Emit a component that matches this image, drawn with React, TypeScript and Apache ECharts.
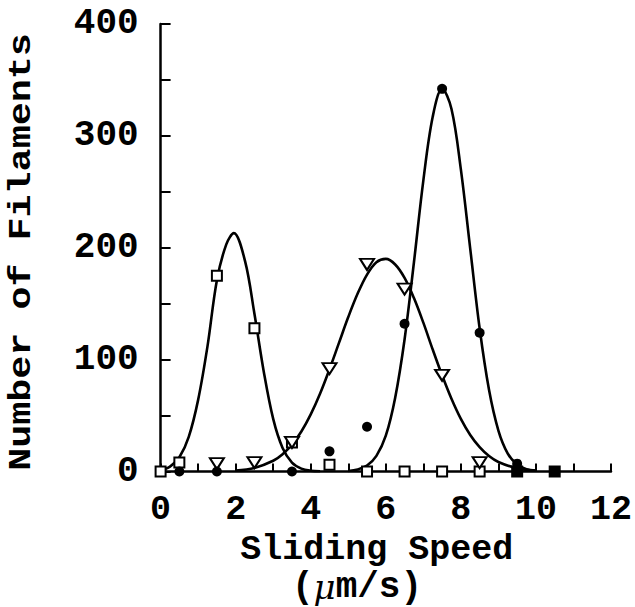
import React, { useEffect, useRef } from "react";
import * as echarts from "echarts";

const FONT = '"Liberation Mono", "Courier New", monospace';

// Fitted curve (squares population)
const curveAX = [0, 0.25, 0.5, 0.75, 1, 1.25, 1.5, 1.75, 1.95, 2.25, 2.5, 2.75, 3, 3.25, 3.5, 3.75, 4, 4.25];
const curveAY = [1.3, 4.4, 12.7, 31, 64, 112, 171, 203, 213, 188, 141, 89, 47, 21, 8, 2.6, 0.7, 0.2];

// Fitted curve (triangles population)
const curveBX = [2, 2.5, 3, 3.25, 3.5, 3.75, 4, 4.25, 4.5, 4.75, 5, 5.25, 5.5, 5.75, 6, 6.25, 6.5, 6.75, 7, 7.25, 7.5, 7.75, 8, 8.25, 8.5, 8.75, 9, 9.5, 10];
const curveBY = [0.9, 3.2, 9.6, 15.5, 24, 35.7, 51, 69.7, 91.4, 114.7, 138, 159, 176, 187, 190, 185, 173, 155, 133, 109, 86, 65, 47, 32.6, 21.7, 13.8, 8.5, 2.8, 0.8];

// Fitted curve (filled circles population)
const curveCX = [5, 5.25, 5.5, 5.75, 6, 6.25, 6.5, 6.75, 7, 7.25, 7.5, 7.75, 8, 8.25, 8.5, 8.75, 9, 9.25, 9.5, 9.75, 10];
const curveCY = [0.5, 1.8, 5.3, 14, 32, 66, 118, 187, 260, 317, 342, 324, 270, 199, 128, 73, 36.6, 16, 6.3, 2.1, 0.6];

// Measured points
const squaresX = [0, 0.5, 1.5, 2.5, 3.5, 4.5, 5.5, 6.5, 7.5, 8.5];
const squaresY = [0, 8, 175, 128, 26, 6, 0, 0, 0, 0];
const filledSquaresX = [9.5, 10.5];
const filledSquaresY = [0, 0];
const trianglesX = [1.5, 2.5, 3.5, 4.5, 5.5, 6.5, 7.5, 8.5];
const trianglesY = [7, 8, 26, 92, 185, 163, 86, 8];
const circlesX = [0.5, 1.5, 3.5, 4.5, 5.5, 6.5, 7.5, 8.5, 9.5];
const circlesY = [0, 0, 0, 18, 40, 132, 342, 124, 7];

const zip = (xs: number[], ys: number[]) => xs.map((x, i) => [x, ys[i]]);

export default function App() {
  const ref = useRef<HTMLDivElement>(null);
  useEffect(() => {
    if (!ref.current) return;
    const chart = echarts.init(ref.current, undefined, { renderer: "svg" });
    const lineStyle = { color: "#000", width: 2.6 };
    const curve = (name: string, data: number[][]) => ({
      name,
      type: "line",
      data,
      smooth: 0.35,
      showSymbol: false,
      symbol: "none",
      lineStyle,
      z: 2,
    });
    const tickLine = { color: "#000", width: 2 };
    chart.setOption({
      animation: false,
      backgroundColor: "#fff",
      grid: { left: 160.6, right: 21.7, top: 23.9, bottom: 135.5 },
      xAxis: {
        type: "value",
        min: 0,
        max: 12,
        interval: 2,
        axisLine: { show: true, onZero: false, lineStyle: { color: "#000", width: 2.5 } },
        axisTick: { show: true, inside: true, length: 8, lineStyle: tickLine },
        minorTick: { show: true, splitNumber: 2, length: 8, lineStyle: tickLine },
        splitLine: { show: false },
        minorSplitLine: { show: false },
        axisLabel: { color: "#000", fontFamily: FONT, fontWeight: "bold", fontSize: 35, margin: 21 },
        name: "Sliding Speed",
        nameLocation: "middle",
        nameGap: 60,
        nameTextStyle: {
          color: "#000",
          fontFamily: FONT,
          fontWeight: "bold",
          fontSize: 35,
          lineHeight: 28,
          padding: [0, 18, 0, 0],
        },
      },
      yAxis: {
        type: "value",
        min: 0,
        max: 400,
        interval: 100,
        axisLine: { show: true, onZero: false, lineStyle: { color: "#000", width: 2.5 } },
        axisTick: { show: true, inside: true, length: 10, lineStyle: tickLine },
        minorTick: { show: true, splitNumber: 2, length: 10, lineStyle: tickLine },
        splitLine: { show: false },
        minorSplitLine: { show: false },
        axisLabel: {
          color: "#000",
          fontFamily: FONT,
          fontWeight: "bold",
          fontSize: 36,
          margin: 22,
        },
      },
      graphic: [
        {
          type: "text",
          x: 22,
          y: 252,
          rotation: Math.PI / 2,
          scaleX: 1.2,
          style: {
            text: "Number of Filaments",
            fontFamily: FONT,
            fontWeight: "bold",
            fontSize: 32,
            fill: "#000",
            align: "center",
            verticalAlign: "middle",
          },
        },
        {
          type: "text",
          x: 357,
          y: 587,
          style: {
            text: "({mu|μ}m/s)",
            fontFamily: FONT,
            fontWeight: "bold",
            fontSize: 36,
            lineHeight: 28,
            fill: "#000",
            align: "center",
            verticalAlign: "middle",
            rich: {
              mu: {
                fontFamily: '"DejaVu Serif", serif',
                fontStyle: "italic",
                fontSize: 34,
                lineHeight: 28,
                fill: "#000",
              },
            },
          },
        },
      ],
      series: [
        curve("fitA", zip(curveAX, curveAY)),
        curve("fitB", zip(curveBX, curveBY)),
        curve("fitC", zip(curveCX, curveCY)),
        {
          name: "squares",
          type: "scatter",
          data: zip(squaresX, squaresY),
          symbol: "rect",
          symbolSize: 10,
          itemStyle: { color: "#fff", borderColor: "#000", borderWidth: 2, opacity: 1 },
          z: 3,
        },
        {
          name: "filledSquares",
          type: "scatter",
          data: zip(filledSquaresX, filledSquaresY),
          symbol: "rect",
          symbolSize: 12,
          itemStyle: { color: "#000", opacity: 1 },
          z: 3,
        },
        {
          name: "triangles",
          type: "scatter",
          data: zip(trianglesX, trianglesY),
          symbol: "triangle",
          symbolRotate: 180,
          symbolSize: [14, 11],
          itemStyle: { color: "#fff", borderColor: "#000", borderWidth: 2, opacity: 1 },
          z: 4,
        },
        {
          name: "circles",
          type: "scatter",
          data: zip(circlesX, circlesY),
          symbol: "circle",
          symbolSize: 10,
          itemStyle: { color: "#000", opacity: 1 },
          z: 5,
        },
      ],
    });
    return () => chart.dispose();
  }, []);
  return <div ref={ref} style={{ position: "fixed", left: 0, top: 0, width: 635, height: 607 }} />;
}
